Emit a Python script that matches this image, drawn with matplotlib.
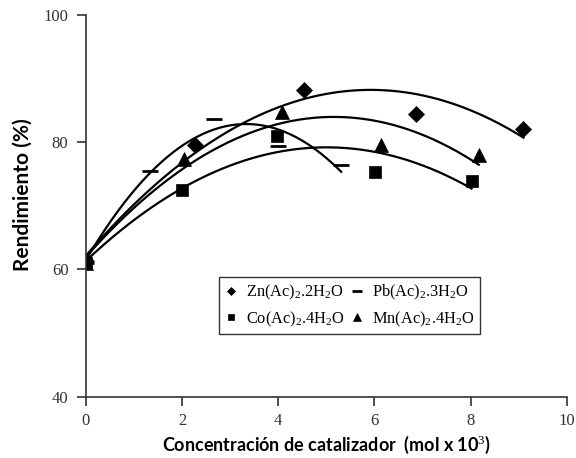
import numpy as np
import matplotlib
matplotlib.use("Agg")
import matplotlib.pyplot as plt

plt.rcParams["font.family"] = "Liberation Serif"
plt.rcParams["mathtext.fontset"] = "custom"
plt.rcParams["mathtext.rm"] = "Liberation Serif"
plt.rcParams["mathtext.default"] = "rm"

# Rendimiento vs concentracion de catalizador
zn_x = [0, 2.27, 4.54, 6.86, 9.1]
zn_y = [61.3, 79.5, 88.3, 84.4, 82.1]
co_x = [0, 1.99, 3.97, 6.01, 8.02]
co_y = [61.0, 72.5, 81.0, 75.3, 73.9]
pb_x = [0, 1.33, 2.66, 3.99, 5.31]
pb_y = [61.0, 75.5, 83.7, 79.4, 76.4]
mn_x = [0, 2.04, 4.07, 6.13, 8.17]
mn_y = [61.0, 77.3, 84.7, 79.6, 78.0]

labels = [r"Zn(Ac)$_2$.2H$_2$O", r"Co(Ac)$_2$.4H$_2$O",
          r"Pb(Ac)$_2$.3H$_2$O", r"Mn(Ac)$_2$.4H$_2$O"]
series = [(zn_x, zn_y, "D", 8.2), (co_x, co_y, "s", 8),
          (pb_x, pb_y, "_", 12), (mn_x, mn_y, "^", 10)]

fig = plt.figure(figsize=(5.76, 4.58), dpi=100)
ax = fig.add_axes([0.149, 0.134, 0.835, 0.833])

for (x, y, m, ms), lab in zip(series, labels):
    ax.plot(x, y, linestyle="none", marker=m, markersize=ms, color="black",
            markeredgewidth=2 if m == "_" else 0.5, label=lab)
    # quadratic trend line
    coef = np.polyfit(x, y, 2)
    xs = np.linspace(0, max(x), 200)
    ax.plot(xs, np.polyval(coef, xs), color="black", lw=1.6)

ax.set_xlim(0, 10)
ax.set_ylim(40, 100)
ax.set_xticks(range(0, 11, 2))
ax.set_yticks([40, 60, 80, 100])
ax.spines["top"].set_visible(False)
ax.spines["right"].set_visible(False)
for s in ("left", "bottom"):
    ax.spines[s].set_linewidth(1.2)
    ax.spines[s].set_color("#333333")
ax.tick_params(direction="out", length=6.5, width=1.2, color="#333333",
               labelsize=12, labelcolor="#333333")
ax.tick_params(axis="y", pad=6)
ax.tick_params(axis="x", pad=5)

ax.set_xlabel(r"Concentración de catalizador  (mol x 10$^{3}$)",
              family="Lato", weight="bold", fontsize=13, labelpad=4)
ax.set_ylabel("Rendimiento (%)", family="Lato", weight="bold", fontsize=15)
ax.yaxis.set_label_coords(-0.11, 0.53)

leg = ax.legend(ncol=2, loc="upper left", bbox_to_anchor=(0.2765, 0.313),
                borderaxespad=0,
                prop={"family": "Liberation Serif", "size": 11.8},
                markerscale=0.55, handlelength=0.8, handletextpad=0.5,
                columnspacing=0.35, labelspacing=0.45, borderpad=0.35,
                fancybox=False, frameon=True)
leg.get_frame().set_edgecolor("black")
leg.get_frame().set_linewidth(1.0)

fig.savefig("out.png", dpi=100)
